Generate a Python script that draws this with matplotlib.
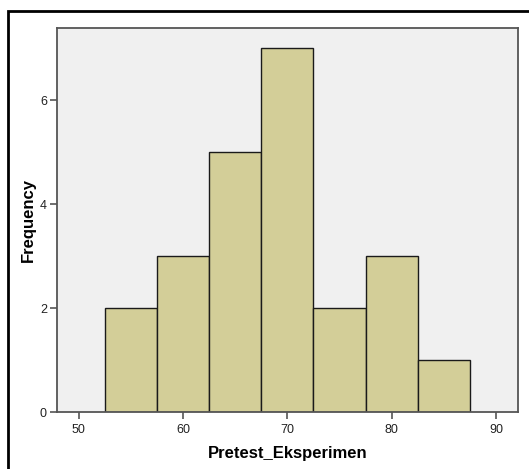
import matplotlib
matplotlib.use("Agg")
import matplotlib.pyplot as plt
from matplotlib.patches import Rectangle

plt.rcParams['font.family'] = ['Liberation Sans', 'DejaVu Sans']

# histogram data (bin centres, width 5)
bin_centers = [55, 60, 65, 70, 75, 80, 85]
counts = [2, 3, 5, 7, 2, 3, 1]
x_ticks = [50, 60, 70, 80, 90]
y_ticks = [0, 2, 4, 6]

fig = plt.figure(figsize=(5.29, 4.69), dpi=100)
ax = fig.add_axes([0.107, 0.1205, 0.872, 0.8195])
ax.set_facecolor('#F0F0F0')

ax.bar(bin_centers, counts, width=5, color='#D3CE98', edgecolor='#1a1a1a', linewidth=1.0)

ax.set_xlim(47.9, 92.1)
ax.set_ylim(0, 7.39)
ax.set_xticks(x_ticks)
ax.set_yticks(y_ticks)
ax.tick_params(axis='both', colors='#555555', labelcolor='#222222', labelsize=9, length=5, width=1.2)
ax.tick_params(axis='y', pad=2)

for s in ax.spines.values():
    s.set_color('#555555')
    s.set_linewidth(1.3)

ax.set_xlabel('Pretest_Eksperimen', fontsize=12, fontweight='bold', labelpad=7)
ax.set_ylabel('Frequency', fontsize=12, fontweight='bold', labelpad=3)

# outer frame (cropped at right and bottom)
fig.patches.append(Rectangle((8 / 529, -0.1), 1.2, 1 - 11 / 469 + 0.1, transform=fig.transFigure,
                             fill=False, edgecolor='black', linewidth=2, clip_on=False))

fig.savefig('out.png', dpi=100)
